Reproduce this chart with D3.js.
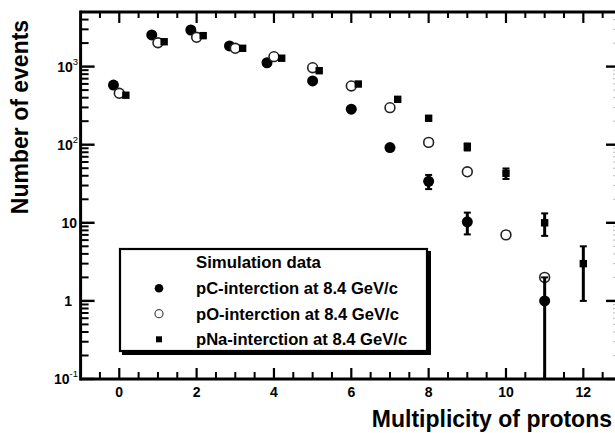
<!DOCTYPE html>
<html><head><meta charset="utf-8">
<script src="https://cdn.jsdelivr.net/npm/d3@7"></script>
<style>
html,body{margin:0;padding:0;background:#fff;}
svg{display:block;font-family:"Liberation Sans",Arial,sans-serif;}
</style></head>
<body><svg id="c" width="615" height="433"></svg>
<script>
// ---- data ----
const multiplicity = [0,1,2,3,4,5,6,7,8,9,10,11,12];
// pC (filled circles)
const pcX   = [-0.15, 0.84, 1.85, 2.85, 3.82, 5, 6, 7, 8, 9, null, 11, null];
const pcY   = [580, 2540, 2940, 1840, 1120, 655, 285, 92, 34, 10.3, null, 1, null];
const pcErr = [null, null, null, null, null, null, null, null, 7, 3.2, null, 1, null];
// pO (open circles)
const poX   = [0, 1, 2, 3, 4, 5, 6, 7, 8, 9, 10, 11, null];
const poY   = [455, 2020, 2370, 1715, 1340, 968, 565, 298, 107, 45, 7, 2, null];
// pNa (filled squares)
const pnaX  = [0.17, 1.16, 2.17, 3.19, 4.2, 5.17, 6.18, 7.2, 8, 9, 10, 11, 12];
const pnaY  = [430, 2080, 2490, 1715, 1280, 886, 598, 381, 218, 94, 43, 10, 3];
const pnaErr= [null, null, null, null, null, null, null, null, null, 9.7, 6.6, 3.2, 2];
const xTickLabels = ["0","2","4","6","8","10","12"];
const yMajor = [0.1, 1, 10, 100, 1000];
const yLabelBase = ["10","1","10","10","10"];
const yLabelSup  = ["-1","","","2","3"];
const legendTitle = "Simulation data";
const legendLabels = ["pC-interction at 8.4 GeV/c","pO-interction at 8.4 GeV/c","pNa-interction at 8.4 GeV/c"];
const xTitle = "Multiplicity of protons";
const yTitle = "Number of events";

// ---- layout ----
const L = 80.6, R = 622, T = 12, B = 379;
const svg = d3.select("#c");
const x = d3.scaleLinear().domain([-1, 13]).range([L, R]);
const y = d3.scaleLog().domain([0.1, 5000]).range([B, T]);

const g = svg.append("g");
const xMajor = d3.range(0, 13, 2);
const xMinor = d3.range(-0.5, 13, 0.5).filter(v => v % 2 !== 0);
const yMinor = [];
[0.1,1,10,100,1000].forEach(d => { for (let k=2;k<=9;k++){ const v=d*k; if (v<=5000) yMinor.push(v);} });

g.selectAll(".xmaj").data(xMajor).join("line")
  .attr("x1", d=>x(d)).attr("x2", d=>x(d)).attr("y1", B).attr("y2", B-11)
  .attr("stroke","#000").attr("stroke-width",2.2);
g.selectAll(".xmin").data(xMinor).join("line")
  .attr("x1", d=>x(d)).attr("x2", d=>x(d)).attr("y1", B).attr("y2", B-7)
  .attr("stroke","#000").attr("stroke-width",2);
g.selectAll(".xmajT").data(xMajor).join("line")
  .attr("x1", d=>x(d)).attr("x2", d=>x(d)).attr("y1", T).attr("y2", T+11)
  .attr("stroke","#000").attr("stroke-width",2.2);
g.selectAll(".xminT").data(xMinor).join("line")
  .attr("x1", d=>x(d)).attr("x2", d=>x(d)).attr("y1", T).attr("y2", T+6)
  .attr("stroke","#000").attr("stroke-width",2);

g.selectAll(".ymaj").data(yMajor).join("line")
  .attr("x1", L).attr("x2", L+14).attr("y1", d=>y(d)).attr("y2", d=>y(d))
  .attr("stroke","#000").attr("stroke-width",2.4);
g.selectAll(".ymin").data(yMinor).join("line")
  .attr("x1", L).attr("x2", L+8).attr("y1", d=>y(d)).attr("y2", d=>y(d))
  .attr("stroke","#000").attr("stroke-width",2);
g.selectAll(".ymajR").data(yMajor).join("line")
  .attr("x1", R).attr("x2", R-16).attr("y1", d=>y(d)).attr("y2", d=>y(d))
  .attr("stroke","#000").attr("stroke-width",2.4);
g.selectAll(".yminR").data(yMinor).join("line")
  .attr("x1", R).attr("x2", R-9).attr("y1", d=>y(d)).attr("y2", d=>y(d))
  .attr("stroke","#bbb").attr("stroke-width",1);

g.append("line").attr("x1",L).attr("x2",R).attr("y1",B).attr("y2",B).attr("stroke","#000").attr("stroke-width",3);
g.append("line").attr("x1",L).attr("x2",R).attr("y1",T).attr("y2",T).attr("stroke","#000").attr("stroke-width",3);
g.append("line").attr("x1",L).attr("x2",L).attr("y1",T-1.5).attr("y2",B+1.5).attr("stroke","#000").attr("stroke-width",3);
g.append("line").attr("x1",R).attr("x2",R).attr("y1",T).attr("y2",B).attr("stroke","#000").attr("stroke-width",3);

g.selectAll(".xl").data(xMajor).join("text")
  .attr("x", d=>x(d)).attr("y", 397).attr("text-anchor","middle")
  .attr("font-size",14).attr("font-weight","bold").text((d,i)=>xTickLabels[i]);
const yl = g.selectAll(".yl").data(yMajor).join("text")
  .attr("x", (d,i)=> yLabelSup[i] ? 78 : (yLabelBase[i]==="1" ? 72 : 77))
  .attr("y", d=>y(d)+5).attr("text-anchor","end").attr("font-size",14).attr("font-weight","bold");
yl.append("tspan").text((d,i)=>yLabelBase[i]);
yl.append("tspan").attr("font-size",9.5).attr("font-weight","normal").attr("dy",-7).text((d,i)=>yLabelSup[i]);

svg.append("text").attr("x",612).attr("y",427).attr("text-anchor","end")
  .attr("font-size",23).attr("font-weight","bold").text(xTitle);
svg.append("text").attr("transform","translate(28,117) rotate(-90)").attr("text-anchor","middle")
  .attr("font-size",23).attr("font-weight","bold").text(yTitle);

// ---- data marks ----
const pc  = multiplicity.map((m,i)=>({x:pcX[i], v:pcY[i], e:pcErr[i]})).filter(d=>d.v!=null);
const po  = multiplicity.map((m,i)=>({x:poX[i], v:poY[i]})).filter(d=>d.v!=null);
const pna = multiplicity.map((m,i)=>({x:pnaX[i], v:pnaY[i], e:pnaErr[i]})).filter(d=>d.v!=null);

const marks = svg.append("g");
marks.selectAll(".pc").data(pc).join("circle")
  .attr("cx", d=>x(d.x)).attr("cy", d=>y(d.v)).attr("r",5.5).attr("fill","#000");
marks.selectAll(".po").data(po).join("circle")
  .attr("cx", d=>x(d.x)).attr("cy", d=>y(d.v)).attr("r",4.9)
  .attr("fill","#fff").attr("stroke","#222").attr("stroke-width",1.6);
marks.selectAll(".pna").data(pna).join("rect")
  .attr("x", d=>x(d.x)-3.7).attr("y", d=>y(d.v)-3.7).attr("width",7.4).attr("height",7.4).attr("fill","#000");

function errBars(data){
  const eb = data.filter(d=>d.e!=null);
  const lo = d => (d.v-d.e) > 0.1 ? y(d.v-d.e) : B;
  marks.selectAll(null).data(eb).join("line")
    .attr("x1", d=>x(d.x)).attr("x2", d=>x(d.x))
    .attr("y1", d=>y(d.v+d.e)).attr("y2", lo)
    .attr("stroke","#000").attr("stroke-width",3);
  marks.selectAll(null).data(eb).join("line")
    .attr("x1", d=>x(d.x)-3.5).attr("x2", d=>x(d.x)+3.5)
    .attr("y1", d=>y(d.v+d.e)).attr("y2", d=>y(d.v+d.e))
    .attr("stroke","#000").attr("stroke-width",2);
  marks.selectAll(null).data(eb.filter(d=>(d.v-d.e)>0.1)).join("line")
    .attr("x1", d=>x(d.x)-3.5).attr("x2", d=>x(d.x)+3.5)
    .attr("y1", d=>y(d.v-d.e)).attr("y2", d=>y(d.v-d.e))
    .attr("stroke","#000").attr("stroke-width",2);
}
errBars(pc);
errBars(pna);

// ---- legend ----
const lg = svg.append("g");
lg.append("rect").attr("x",122).attr("y",251).attr("width",309).attr("height",104).attr("fill","#000");
lg.append("rect").attr("x",120).attr("y",249).attr("width",307).attr("height",102)
  .attr("fill","#fff").attr("stroke","#000").attr("stroke-width",2.2);
lg.append("text").attr("x",196).attr("y",268).attr("font-size",16.8).attr("font-weight","bold").text(legendTitle);
const rowY = [288.3, 313.7, 339.3];
lg.selectAll(".lt").data(legendLabels).join("text")
  .attr("x",196).attr("y",(d,i)=>rowY[i]+6).attr("font-size",16.6).attr("font-weight","bold").text(d=>d);
lg.append("circle").attr("cx",159).attr("cy",rowY[0]).attr("r",4.3).attr("fill","#000");
lg.append("circle").attr("cx",159).attr("cy",rowY[1]).attr("r",4).attr("fill","#fff").attr("stroke","#555").attr("stroke-width",1.3);
lg.append("rect").attr("x",156).attr("y",rowY[2]-3).attr("width",6).attr("height",6).attr("fill","#000");
</script>
</body></html>
